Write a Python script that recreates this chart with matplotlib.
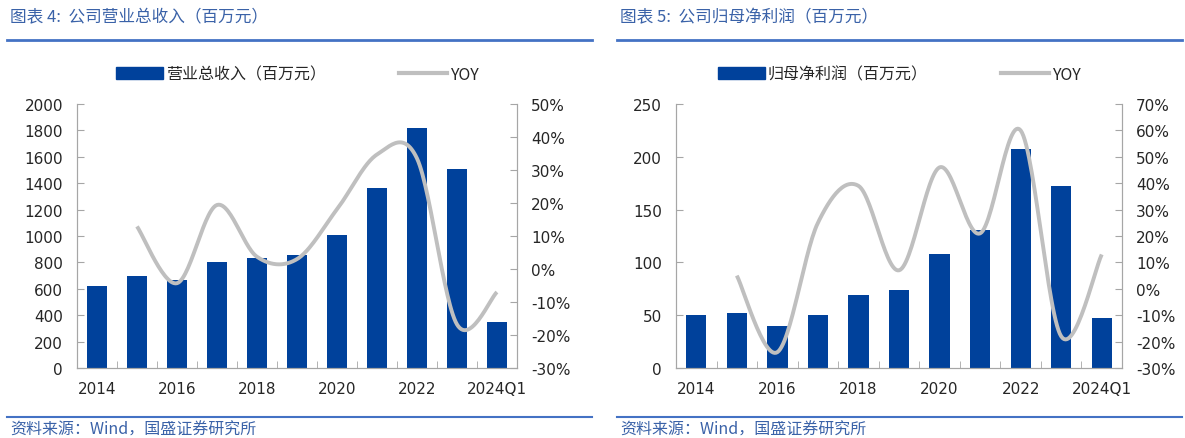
import matplotlib
matplotlib.use("Agg")
import matplotlib.pyplot as plt
from matplotlib.lines import Line2D
from matplotlib.patches import Patch
import numpy as np

plt.rcParams['font.family'] = ['DejaVu Sans', 'Noto Sans CJK SC']

# data
years = ["2014", "2015", "2016", "2017", "2018", "2019", "2020", "2021", "2022", "2023", "2024Q1"]
shown_labels = ["2014", "", "2016", "", "2018", "", "2020", "", "2022", "", "2024Q1"]

revenue = [620, 700, 670, 800, 830, 855, 1010, 1360, 1815, 1510, 345]
revenue_yoy = [12.9, -4.3, 19.4, 3.7, 3.0, 18.1, 34.7, 33.5, -16.8, -7.0]

profit = [50, 52, 40, 50, 69, 74, 108, 131, 207, 172, 47]
profit_yoy = [5.0, -24.0, 25.0, 39.0, 7.0, 46.0, 21.0, 60.0, -18.0, 13.0]

BAR = "#00419B"
LINE = "#BFBFBF"
SPINE = "#A6A6A6"
TITLE = "#3A62A8"
RULE = "#4472C4"
CJK = ['Noto Sans CJK SC', 'DejaVu Sans']


def smooth(xs, ys, n=30):
    # Catmull-Rom style smoothing, like the smoothed line option in Excel
    xs = np.asarray(xs, float)
    ys = np.asarray(ys, float)
    px = np.concatenate([[xs[0]], xs, [xs[-1]]])
    py = np.concatenate([[ys[0]], ys, [ys[-1]]])
    outx, outy = [], []
    for i in range(1, len(px) - 2):
        p0, p1, p2, p3 = (np.array([px[j], py[j]]) for j in (i - 1, i, i + 1, i + 2))
        c1 = p1 + (p2 - p0) / 6
        c2 = p2 - (p3 - p1) / 6
        t = np.linspace(0, 1, n)[:, None]
        pts = (1 - t) ** 3 * p1 + 3 * (1 - t) ** 2 * t * c1 + 3 * (1 - t) * t ** 2 * c2 + t ** 3 * p2
        outx.extend(pts[:, 0])
        outy.extend(pts[:, 1])
    return outx, outy


def draw(rect, bars, yoy, bar_name, ymax, ystep, rlim):
    ax = fig.add_axes(rect)
    x = np.arange(len(years))
    ax.bar(x, bars, width=0.5, color=BAR, zorder=2)
    ax.set_xlim(-0.5, len(years) - 0.5)
    ax.set_ylim(0, ymax)
    ax.set_yticks(np.arange(0, ymax + 1, ystep))
    ax.set_xticks(x)
    ax.set_xticklabels(shown_labels)
    ax.set_xticks(np.arange(-0.5, len(years), 1), minor=True)
    ax.tick_params(axis='x', which='major', length=0, pad=9, labelsize=11, labelcolor="#262626")
    ax.tick_params(axis='x', which='minor', direction='in', length=5, color=SPINE)
    ax.tick_params(axis='y', direction='in', length=5, color=SPINE, pad=10, labelsize=11, labelcolor="#262626")
    ax.spines['top'].set_visible(False)
    for s in ('left', 'right', 'bottom'):
        ax.spines[s].set_color(SPINE)

    ax2 = ax.twinx()
    sx, sy = smooth(x[1:], yoy)
    ax2.plot(sx, sy, color=LINE, lw=2.8, solid_capstyle='butt', zorder=3)
    ax2.set_ylim(*rlim)
    ax2.set_yticks(np.arange(rlim[0], rlim[1] + 1, 10))
    ax2.set_yticklabels([f"{v}%" for v in range(rlim[0], rlim[1] + 1, 10)])
    ax2.tick_params(axis='y', direction='in', length=5, color=SPINE, pad=10, labelsize=11, labelcolor="#262626")
    ax2.spines['top'].set_visible(False)
    for s in ('left', 'right', 'bottom'):
        ax2.spines[s].set_color(SPINE)

    handles = [Patch(facecolor=BAR, edgecolor=BAR), Line2D([], [], color=LINE, lw=3)]
    leg = ax.legend(handles, [bar_name, "YOY"], ncol=2, loc='center',
                    bbox_to_anchor=(0.5, 1.112), frameon=False, handlelength=3.0,
                    handleheight=0.8, handletextpad=0.15, columnspacing=4.6,
                    prop={'family': CJK, 'size': 11.5})
    for t in leg.get_texts():
        t.set_color("#262626")
    return ax


fig = plt.figure(figsize=(11.85, 4.39), dpi=100)

W, H = 1185.0, 439.0
draw([77 / W, 1 - 369 / H, 440 / W, 264 / H], revenue, revenue_yoy,
     "营业总收入（百万元）", 2000, 200, (-30, 50))
draw([676 / W, 1 - 369 / H, 446 / W, 264 / H], profit, profit_yoy,
     "归母净利润（百万元）", 250, 50, (-30, 70))

# titles, rules and source notes
for x0, x1, title in [(7, 592, "图表 4:  公司营业总收入（百万元）"),
                      (617, 1182, "图表 5:  公司归母净利润（百万元）")]:
    fig.text((x0 + 3) / W, 1 - 18 / H, title, color=TITLE, fontsize=12,
             style='italic', family=CJK, va='center')
    fig.add_artist(Line2D([x0 / W, x1 / W], [1 - 41 / H] * 2, color=RULE, lw=2))
    fig.add_artist(Line2D([x0 / W, x1 / W], [1 - 418 / H] * 2, color=RULE, lw=1.5))
    fig.text((x0 + 3) / W, 1 - 430 / H, "资料来源：Wind，国盛证券研究所", color=TITLE,
             fontsize=11.5, style='italic', family=CJK, va='center')

fig.savefig("out.png", dpi=100)
